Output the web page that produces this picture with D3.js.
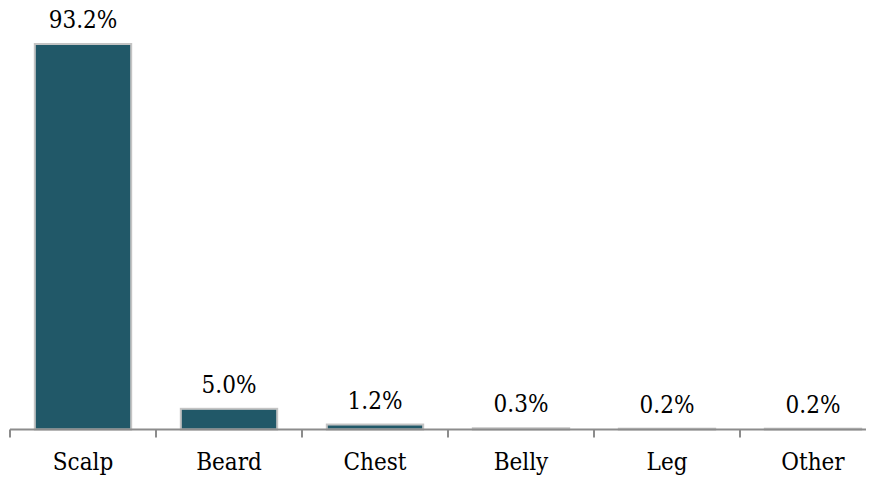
<!DOCTYPE html>
<html><head><meta charset="utf-8">
<script src="https://cdn.jsdelivr.net/npm/d3@7"></script>
<style>body{margin:0;background:#fff}svg{display:block}</style>
</head><body>
<svg id="c" width="876" height="478"></svg>
<script>
const categories = ["Scalp","Beard","Chest","Belly","Leg","Other"];
const values = [93.2,5.0,1.2,0.3,0.2,0.2];
const labels = ["93.2%","5.0%","1.2%","0.3%","0.2%","0.2%"];

const svg = d3.select("#c");
const x = d3.scaleBand().domain(categories).range([10,886]).paddingInner(0.34).paddingOuter(0.17);
const y = d3.scaleLinear().domain([0,93.2]).range([429.5,44]);

svg.selectAll("rect.bar").data(values).enter().append("rect")
  .attr("class","bar")
  .attr("x",(d,i)=>x(categories[i]))
  .attr("width",x.bandwidth())
  .attr("y",d=>y(d))
  .attr("height",d=>y(0)-y(d))
  .attr("fill","#215868")
  .attr("stroke","#c4c4c4")
  .attr("stroke-width",2);

const step = x.step();
svg.append("line").attr("x1",10).attr("x2",866).attr("y1",y(0)).attr("y2",y(0))
  .attr("stroke","#8c8c8c").attr("stroke-width",2);
categories.forEach((c,i)=>{
  const tx = x(c) - x.paddingInner()*step/2;
  svg.append("line").attr("x1",tx).attr("x2",tx).attr("y1",y(0)).attr("y2",y(0)+8)
    .attr("stroke","#8c8c8c").attr("stroke-width",2);
});

const FONT = "'DejaVu Serif Condensed', 'DejaVu Serif', serif";
svg.selectAll("text.val").data(values).enter().append("text")
  .attr("class","val")
  .attr("x",(d,i)=>x(categories[i])+x.bandwidth()/2)
  .attr("y",d=>y(d)-16)
  .attr("text-anchor","middle").attr("font-size",24)
  .attr("font-family",FONT).style("font-stretch","condensed")
  .attr("fill","#000")
  .text((d,i)=>labels[i]);

svg.selectAll("text.cat").data(categories).enter().append("text")
  .attr("class","cat")
  .attr("x",d=>x(d)+x.bandwidth()/2)
  .attr("y",470)
  .attr("text-anchor","middle").attr("font-size",24)
  .attr("font-family",FONT).style("font-stretch","condensed")
  .attr("fill","#000")
  .text(d=>d);
</script>
</body></html>
